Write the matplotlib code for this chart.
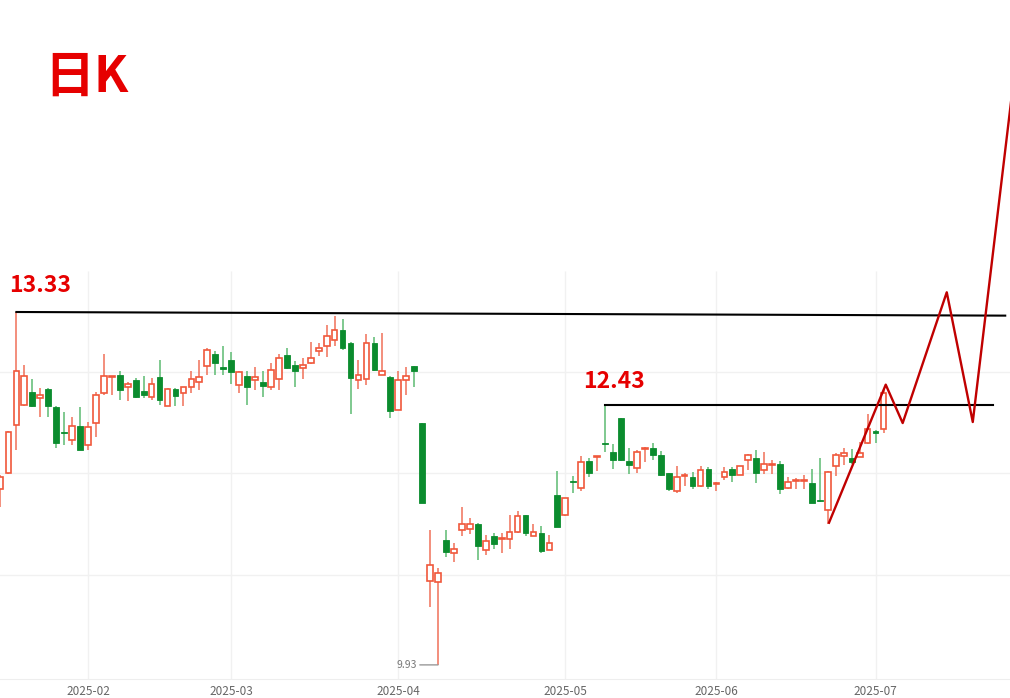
import numpy as np
import pandas as pd
import matplotlib
matplotlib.use("Agg")
import matplotlib.pyplot as plt
from matplotlib.patches import Rectangle

plt.rcParams['font.family'] = ['Noto Sans CJK SC', 'DejaVu Sans']

# trading days (A-share calendar, holidays removed)
holidays = ['2025-01-28', '2025-01-29', '2025-01-30', '2025-01-31', '2025-02-03',
            '2025-02-04', '2025-04-04', '2025-05-01', '2025-05-02', '2025-05-05',
            '2025-06-02']
dates = pd.bdate_range('2025-01-13', '2025-07-02')
dates = dates[~dates.isin(pd.to_datetime(holidays))]

# daily OHLC
opens = [11.62, 11.78, 12.24, 12.43, 12.56, 12.50, 12.59, 12.41, 12.17, 12.10,
         12.23, 12.05, 12.26, 12.55, 12.70, 12.72, 12.61, 12.67, 12.57, 12.51,
         12.70, 12.42, 12.59, 12.55, 12.61, 12.66, 12.81, 12.93, 12.80, 12.87,
         12.63, 12.71, 12.67, 12.66, 12.61, 12.68, 12.92, 12.82, 12.79, 12.84,
         12.95, 13.00, 13.06, 13.16, 13.03, 12.67, 12.68, 13.03, 12.72, 12.70,
         12.39, 12.67, 12.81, 12.26, 10.74, 10.73, 11.13, 11.01, 11.23, 11.24,
         11.29, 11.04, 11.17, 11.14, 11.14, 11.21, 11.37, 11.17, 11.20, 11.04,
         11.57, 11.37, 11.70, 11.63, 11.89, 11.93, 12.07, 11.98, 12.31, 11.89,
         11.83, 12.01, 12.02, 11.95, 11.78, 11.61, 11.75, 11.74, 11.65, 11.82,
         11.67, 11.74, 11.82, 11.76, 11.90, 11.92, 11.81, 11.86, 11.87, 11.63,
         11.70, 11.70, 11.68, 11.52, 11.42, 11.85, 11.94, 11.92, 11.93, 12.07,
         12.18, 12.20]
closes = [11.74, 12.17, 12.76, 12.71, 12.42, 12.53, 12.42, 12.07, 12.16, 12.23,
          12.00, 12.22, 12.53, 12.71, 12.71, 12.58, 12.64, 12.51, 12.53, 12.64,
          12.48, 12.59, 12.52, 12.61, 12.68, 12.70, 12.96, 12.84, 12.78, 12.75,
          12.75, 12.61, 12.70, 12.62, 12.77, 12.89, 12.79, 12.76, 12.82, 12.89,
          12.98, 13.10, 13.16, 12.98, 12.69, 12.72, 13.03, 12.77, 12.76, 12.38,
          12.67, 12.71, 12.76, 11.49, 10.89, 10.82, 11.02, 11.05, 11.29, 11.29,
          11.08, 11.12, 11.09, 11.15, 11.21, 11.36, 11.20, 11.21, 11.03, 11.10,
          11.26, 11.54, 11.69, 11.88, 11.78, 11.94, 12.06, 11.90, 11.90, 11.86,
          11.98, 12.02, 11.95, 11.76, 11.62, 11.74, 11.76, 11.65, 11.81, 11.65,
          11.68, 11.79, 11.76, 11.85, 11.95, 11.78, 11.87, 11.87, 11.62, 11.69,
          11.71, 11.71, 11.49, 11.51, 11.79, 11.95, 11.97, 11.88, 11.97, 12.20,
          12.16, 12.55]
highs = [11.76, 12.18, 13.33, 12.82, 12.68, 12.60, 12.60, 12.42, 12.37, 12.32,
         12.41, 12.27, 12.56, 12.93, 12.71, 12.76, 12.66, 12.69, 12.71, 12.69,
         12.87, 12.60, 12.60, 12.61, 12.76, 12.87, 12.98, 12.95, 13.00, 12.94,
         12.76, 12.76, 12.80, 12.76, 12.84, 12.93, 12.98, 12.86, 12.89, 13.04,
         13.03, 13.20, 13.29, 13.26, 13.04, 12.87, 13.12, 13.09, 13.13, 12.71,
         12.76, 12.80, 12.81, 12.26, 11.23, 10.86, 11.23, 11.10, 11.45, 11.35,
         11.30, 11.18, 11.20, 11.20, 11.37, 11.41, 11.37, 11.29, 11.27, 11.18,
         11.80, 11.54, 11.75, 11.94, 11.92, 11.94, 12.43, 12.06, 12.31, 12.02,
         12.00, 12.03, 12.07, 11.99, 11.78, 11.85, 11.78, 11.79, 11.85, 11.84,
         11.69, 11.84, 11.84, 11.85, 11.96, 12.00, 11.98, 11.90, 11.89, 11.74,
         11.73, 11.76, 11.82, 11.92, 11.80, 11.97, 12.02, 12.01, 12.08, 12.35,
         12.19, 12.60]
lows = [11.45, 11.77, 12.00, 12.42, 12.41, 12.32, 12.32, 12.02, 12.05, 12.05,
        12.00, 12.00, 12.13, 12.53, 12.53, 12.48, 12.47, 12.50, 12.50, 12.48,
        12.43, 12.42, 12.42, 12.42, 12.55, 12.58, 12.72, 12.72, 12.72, 12.64,
        12.55, 12.43, 12.58, 12.51, 12.58, 12.58, 12.78, 12.61, 12.68, 12.83,
        12.91, 12.90, 13.00, 12.96, 12.35, 12.59, 12.63, 12.76, 12.72, 12.31,
        12.39, 12.53, 12.61, 11.49, 10.49, 9.93, 10.97, 10.92, 11.17, 11.19,
        10.94, 10.99, 11.05, 11.01, 11.05, 11.20, 11.17, 11.17, 11.01, 11.04,
        11.26, 11.36, 11.59, 11.61, 11.74, 11.80, 11.98, 11.82, 11.89, 11.77,
        11.78, 11.88, 11.90, 11.75, 11.61, 11.59, 11.65, 11.62, 11.64, 11.62,
        11.61, 11.71, 11.69, 11.76, 11.81, 11.68, 11.77, 11.77, 11.58, 11.62,
        11.62, 11.62, 11.49, 11.50, 11.29, 11.75, 11.86, 11.87, 11.93, 12.06,
        12.07, 12.16]

# key levels and the projected path
levels = [13.33, 12.43]
level_start = [2, 76]
level_end = [126.3, 124.8]
level_end_val = [13.295, 12.43]
proj_x = [104.15, 111.28, 113.41, 118.95, 122.22, 127.3]
proj_y = [11.30, 12.63, 12.26, 13.52, 12.27, 15.53]
low_label = 9.93
low_idx = 55

up_edge = '#f0573b'
up_wick = '#f07058'
dn_face = '#0b8c2e'
dn_wick = '#5cbb72'

fig = plt.figure(figsize=(10.10, 6.98), dpi=100)
ax = fig.add_axes([0, 19 / 698, 1, 679 / 698])
ax.set_xlim(-0.06, 126.9)
ax.set_ylim(9.794, 16.336)

# faint grid
month_idx = [i for i in range(1, len(dates)) if dates[i].month != dates[i - 1].month]
month_lbl = [dates[i].strftime('%Y-%m') for i in month_idx]
for p in [12.75, 11.775, 10.80]:
    ax.axhline(p, color='#f1f1f1', lw=1, zorder=0)
ax.vlines(month_idx, 9.794, 13.725, color='#f1f1f1', lw=1, zorder=0)

w = 0.72
for i in range(len(opens)):
    o, c, h, l = opens[i], closes[i], highs[i], lows[i]
    top, bot = max(o, c), min(o, c)
    if c >= o:
        ax.vlines(i, top, h, color=up_wick, lw=1.1, zorder=2)
        ax.vlines(i, l, bot, color=up_wick, lw=1.1, zorder=2)
        ax.add_patch(Rectangle((i - w / 2, bot), w, top - bot, facecolor='white',
                               edgecolor=up_edge, lw=1.2, zorder=3))
    else:
        ax.vlines(i, l, h, color=dn_wick, lw=1.1, zorder=2)
        ax.add_patch(Rectangle((i - w / 2, bot), w, max(top - bot, 0.012),
                               facecolor=dn_face, edgecolor=dn_face, lw=0.6, zorder=3))

for lv, x0, x1, y1 in zip(levels, level_start, level_end, level_end_val):
    ax.plot([x0, x1], [lv, y1], color='black', lw=1.5, zorder=4)

ax.annotate(f'{levels[0]:.2f}', (level_start[0], levels[0]), xytext=(-7, 26),
            textcoords='offset pixels', ha='left', va='center', color='#e60000',
            fontsize=16.5, fontweight='bold')
ax.annotate(f'{levels[1]:.2f}', (level_start[1], levels[1]), xytext=(-22, 24),
            textcoords='offset pixels', ha='left', va='center', color='#e60000',
            fontsize=16.5, fontweight='bold')

ax.plot(proj_x, proj_y, color='#c00000', lw=1.7, zorder=5)

ax.annotate(f'{low_label:.2f}', (low_idx, low_label), xytext=(-21, 0),
            textcoords='offset pixels', ha='right', va='center', color='#777777',
            fontsize=7.5,
            arrowprops=dict(arrowstyle='-', color='#999999', lw=1, shrinkA=0, shrinkB=0))

ax.set_xticks(month_idx)
ax.set_xticklabels(month_lbl, color='#666666', fontsize=8.5)
ax.set_yticks([])
ax.tick_params(axis='x', length=0, pad=4)
for s in ['top', 'left', 'right']:
    ax.spines[s].set_visible(False)
ax.spines['bottom'].set_color('#eeeeee')

fig.text(44 / 1010, 1 - 77 / 698, '日K', color='#e60000', fontsize=36,
         fontweight='bold', ha='left', va='center')

fig.savefig('out.png', dpi=100)
